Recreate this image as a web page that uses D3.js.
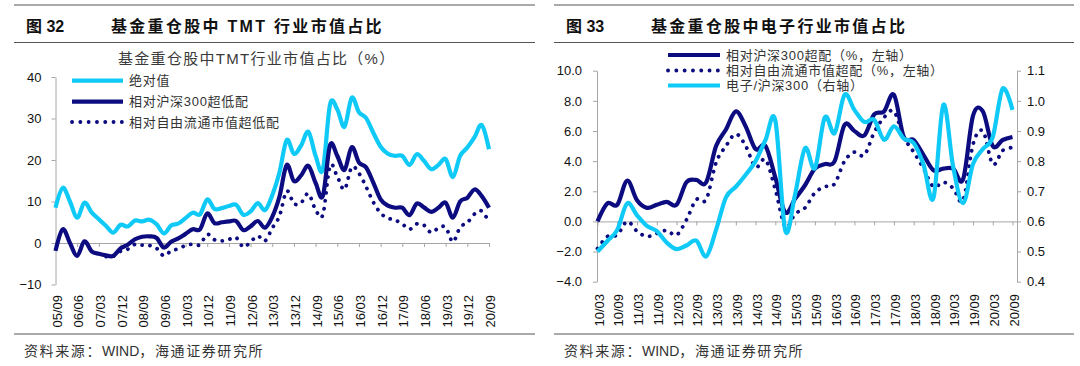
<!DOCTYPE html>
<html>
<head>
<meta charset="utf-8">
<script src="https://cdn.jsdelivr.net/npm/d3@7"></script>
<style>
  body { margin: 0; background: #fff; }
  svg text { font-family: "Liberation Sans", "Noto Sans CJK SC", sans-serif; }
</style>
</head>
<body>
<svg id="chart" width="1080" height="366"></svg>
<script>
// ---- 图32 data (quarterly) ----
const tmtQuarters = ["05/09","05/12","06/03","06/06","06/09","06/12","07/03","07/06","07/09","07/12",
  "08/03","08/06","08/09","08/12","09/03","09/06","09/09","09/12","10/03","10/06",
  "10/09","10/12","11/03","11/06","11/09","11/12","12/03","12/06","12/09","12/12",
  "13/03","13/06","13/09","13/12","14/03","14/06","14/09","14/12","15/03","15/06",
  "15/09","15/12","16/03","16/06","16/09","16/12","17/03","17/06","17/09","17/12",
  "18/03","18/06","18/09","18/12","19/03","19/06","19/09","19/12","20/03","20/06","20/09"];
const tmtTickLabels = ["05/09","06/06","07/03","07/12","08/09","09/06","10/03","10/12","11/09","12/06",
  "13/03","13/12","14/09","15/06","16/03","16/12","17/09","18/06","19/03","19/12","20/09"];
const tmtYTicks = [-10, 0, 10, 20, 30, 40];
const tmtAbs = [8.5, 13.3, 10.0, 6.1, 9.7, 7.4, 5.7, 4.1, 2.5, 4.4,
  4.0, 5.4, 5.2, 5.6, 4.5, 2.3, 4.2, 4.7, 6.0, 7.3,
  6.9, 10.5, 8.2, 8.4, 8.9, 9.2, 6.8, 7.6, 9.6, 7.9,
  11.5, 17.0, 24.8, 21.5, 23.5, 26.8, 21.0, 17.7, 33.4, 32.2,
  28.0, 35.0, 31.5, 30.1, 26.5, 23.2, 21.5, 21.0, 21.0, 18.8,
  21.4, 19.8, 17.8, 18.8, 20.2, 15.9, 21.0, 23.0, 25.5, 28.4, 22.6];
const tmtRelHS300 = [-1.9, 3.3, 0.0, -3.1, 0.4, -2.0, -2.6, -3.0, -3.1, -1.3,
  -0.4, 0.9, 1.5, 1.6, 1.2, -1.1, 0.3, 1.1, 2.2, 3.3,
  3.3, 7.1, 4.8, 5.0, 5.2, 5.3, 3.1, 4.0, 5.3, 3.7,
  6.3, 11.2, 18.8, 14.9, 16.3, 18.6, 14.5, 11.3, 23.6, 21.0,
  17.6, 23.1, 19.4, 18.2, 14.5, 10.5, 9.0, 8.5, 8.5, 6.7,
  9.5, 8.6, 7.5, 8.5, 9.7, 6.1, 10.0, 10.9, 12.9, 11.3, 8.5];
const tmtRelFree = [null, null, null, null, null, null, null, -3.3, -3.2, -2.0,
  -1.5, -0.3, -0.5, -0.6, -1.3, -3.1, -1.9, -1.4, -0.6, -0.3,
  -0.4, 2.1, 0.8, 0.5, 0.9, 1.3, -1.0, 0.3, 1.7, 0.5,
  3.6, 6.5, 12.5, 9.5, 9.7, 11.9, 8.0, 6.8, 18.6, 16.0,
  12.9, 18.3, 16.8, 13.5, 9.8, 7.2, 6.0, 5.5, 4.6, 3.3,
  4.6, 4.3, 2.5, 3.6, 3.8, 0.3, 3.8, 4.9, 7.0, 7.7, 5.0];

// ---- 图33 data (quarterly) ----
const elecQuarters = ["10/03","10/06","10/09","10/12","11/03","11/06","11/09","11/12","12/03","12/06",
  "12/09","12/12","13/03","13/06","13/09","13/12","14/03","14/06","14/09","14/12",
  "15/03","15/06","15/09","15/12","16/03","16/06","16/09","16/12","17/03","17/06",
  "17/09","17/12","18/03","18/06","18/09","18/12","19/03","19/06","19/09","19/12",
  "20/03","20/06","20/09"];
const elecTickLabels = ["10/03","10/09","11/03","11/09","12/03","12/09","13/03","13/09","14/03","14/09",
  "15/03","15/09","16/03","16/09","17/03","17/09","18/03","18/09","19/03","19/09","20/03","20/09"];
const elecLeftTicks = [-4, -2, 0, 2, 4, 6, 8, 10];
const elecRightTicks = [0.4, 0.5, 0.6, 0.7, 0.8, 0.9, 1.0, 1.1];
const elecRelHS300 = [0.0, 1.2, 1.1, 2.7, 1.4, 0.9, 1.1, 1.3, 1.1, 2.6,
  2.75, 2.6, 5.0, 6.1, 7.3, 6.3, 4.8, 5.0, 2.9, 0.6,
  1.5, 2.4, 3.5, 3.8, 4.0, 6.4, 6.0, 5.7, 7.1, 7.3,
  8.4, 5.6, 5.4, 4.4, 3.4, 3.5, 3.5, 2.8, 7.0, 7.3,
  5.0, 5.4, 5.6];
const elecRelFree = [-1.8, -1.0, -0.9, 0.0, -0.65, -1.0, -0.8, -0.6, -0.9, 0.1,
  1.45, 1.45, 3.9, 5.0, 5.8, 5.0, 3.6, 4.1, 2.1, -0.35,
  0.5, 0.9, 1.9, 2.3, 2.5, 4.0, 4.6, 4.4, 5.9, 6.9,
  7.3, 5.6, 4.6, 3.5, 2.3, 2.6, 2.2, 1.4, 5.1, 6.0,
  3.8, 4.7, 4.9];
const elecRatio = [0.50, 0.535, 0.572, 0.66, 0.62, 0.585, 0.568, 0.53, 0.508, 0.52,
  0.536, 0.484, 0.572, 0.68, 0.715, 0.755, 0.80, 0.87, 0.935, 0.57,
  0.69, 0.843, 0.777, 0.945, 0.893, 1.02, 0.97, 0.93, 0.937, 0.871,
  0.915, 0.875, 0.86, 0.788, 0.678, 0.987, 0.78, 0.661, 0.79, 0.84,
  0.88, 1.04, 0.97];

const cyan = "#0fc9f7", navy = "#0c0c80", axisGray = "#a6a6a6";
const svg = d3.select("#chart");
const curve = d3.curveCardinal.tension(0);

// frame rules and headings
function header(x0, x1, num, title) {
  svg.append("line").attr("x1", x0).attr("x2", x1).attr("y1", 5).attr("y2", 5)
     .attr("stroke", "#555").attr("stroke-width", 1.2);
  svg.append("line").attr("x1", x0).attr("x2", x1).attr("y1", 42.5).attr("y2", 42.5)
     .attr("stroke", "#555").attr("stroke-width", 1);
  svg.append("line").attr("x1", x0).attr("x2", x1).attr("y1", 334).attr("y2", 334)
     .attr("stroke", "#555").attr("stroke-width", 1);
  svg.append("text").attr("x", x0 + 12).attr("y", 32).text(num)
     .style("font-size", "16px").style("font-weight", "bold").attr("fill", "#111");
  svg.append("text").attr("x", x0 + 97).attr("y", 32).text(title)
     .style("font-size", "16px").style("font-weight", "bold").style("letter-spacing", "2.3px").attr("fill", "#111");
  const src = svg.append("text").attr("x", x0 + 10).attr("y", 356)
     .style("font-size", "14px").style("letter-spacing", "1.6px").attr("fill", "#333");
  src.append("tspan").text("资料来源：");
  src.append("tspan").style("letter-spacing", "0px").text("WIND");
  src.append("tspan").text("，海通证券研究所");
}
header(14, 535, "图 32", "基金重仓股中 TMT 行业市值占比");
header(554, 1074, "图 33", "基金重仓股中电子行业市值占比");

function xLabels(g, scale, labels, y) {
  g.selectAll(null).data(labels).enter().append("text")
   .attr("transform", d => `translate(${scale(d) + 1.5},${y}) rotate(-90)`)
   .attr("dy", "0.35em").attr("text-anchor", "end")
   .style("font-size", "13px").attr("fill", "#111").text(d => d);
}

function legend(g, items, x0, x1, ys, size) {
  items.forEach((it, k) => {
    const ln = g.append("line").attr("x1", x0).attr("x2", x1).attr("y1", ys[k]).attr("y2", ys[k])
      .attr("stroke", it.color).attr("stroke-width", it.dotted ? 3.8 : 4.2);
    if (it.dotted) ln.attr("stroke-dasharray", "0.1 8.2").attr("stroke-linecap", "round");
    g.append("text").attr("x", x1 + 6).attr("y", ys[k]).attr("dy", "0.36em").text(it.label)
      .style("font-size", size).style("letter-spacing", "0.7px").attr("fill", "#333");
  });
}

function series(g, x, y, values, color, dotted) {
  const line = d3.line().defined(d => d.v != null).x(d => x(d.q)).y(d => y(d.v)).curve(curve);
  const p = g.append("path").datum(values)
    .attr("d", line).attr("fill", "none").attr("stroke", color)
    .attr("stroke-width", dotted ? 3.8 : 4.2).attr("stroke-linejoin", "round");
  if (dotted) p.attr("stroke-dasharray", "0.1 7.8").attr("stroke-linecap", "round");
}

// ---------------- 图32 ----------------
{
  const g = svg.append("g");
  const x = d3.scalePoint().domain(tmtQuarters).range([55.5, 489]);
  const y = d3.scaleLinear().domain([-10, 40]).range([284.5, 77]);

  const ya = g.append("g").attr("transform", `translate(${x(tmtQuarters[0])},0)`)
    .call(d3.axisLeft(y).tickValues(tmtYTicks).tickSize(4).tickSizeOuter(0).tickPadding(10));
  ya.select(".domain").attr("stroke", axisGray);
  ya.selectAll(".tick line").attr("stroke", axisGray);
  ya.selectAll(".tick text").style("font-size", "13px").attr("fill", "#111")
    .style("font-family", '"Liberation Sans", sans-serif');

  const xa = g.append("g").attr("transform", `translate(0,${y(0)})`)
    .call(d3.axisBottom(x).tickValues(tmtTickLabels).tickSize(4).tickSizeOuter(0).tickFormat(""));
  xa.select(".domain").attr("stroke", axisGray);
  xa.selectAll(".tick line").attr("stroke", axisGray);
  xLabels(g, x, tmtTickLabels, 295);

  g.append("text").attr("x", 118).attr("y", 58.5).attr("dy", "0.36em")
    .text("基金重仓股中TMT行业市值占比（%）")
    .style("font-size", "15px").style("letter-spacing", "1.3px").attr("fill", "#3a3a3a");

  series(g, x, y, tmtQuarters.map((q, i) => ({q, v: tmtAbs[i]})), cyan, false);
  series(g, x, y, tmtQuarters.map((q, i) => ({q, v: tmtRelHS300[i]})), navy, false);
  series(g, x, y, tmtQuarters.map((q, i) => ({q, v: tmtRelFree[i]})), navy, true);

  legend(g, [
    {label: "绝对值", color: cyan},
    {label: "相对沪深300超低配", color: navy},
    {label: "相对自由流通市值超低配", color: navy, dotted: true}
  ], 72, 123, [80.7, 101.7, 122], "13px");
}

// ---------------- 图33 ----------------
{
  const g = svg.append("g");
  const x = d3.scalePoint().domain(elecQuarters).range([597.5, 1012.5]);
  const yl = d3.scaleLinear().domain([-4, 10]).range([281.7, 70.7]);
  const yr = d3.scaleLinear().domain([0.4, 1.1]).range([281.7, 70.7]);

  const la = g.append("g").attr("transform", "translate(597,0)")
    .call(d3.axisLeft(yl).tickValues(elecLeftTicks).tickSize(4).tickSizeOuter(0).tickPadding(11)
      .tickFormat(d3.format(".1f")));
  const ra = g.append("g").attr("transform", "translate(1017,0)")
    .call(d3.axisRight(yr).tickValues(elecRightTicks).tickSize(4).tickSizeOuter(0).tickPadding(6)
      .tickFormat(d3.format(".1f")));
  [la, ra].forEach(a => {
    a.select(".domain").attr("stroke", axisGray);
    a.selectAll(".tick line").attr("stroke", axisGray);
    a.selectAll(".tick text").style("font-size", "13px").attr("fill", "#111")
      .style("font-family", '"Liberation Sans", sans-serif');
  });

  const xa = g.append("g").attr("transform", `translate(0,${yl(0)})`)
    .call(d3.axisBottom(x).tickValues(elecTickLabels).tickSize(4).tickSizeOuter(0).tickFormat(""));
  xa.select(".domain").attr("stroke", axisGray).attr("d", `M597,0.5H1017`);
  xa.selectAll(".tick line").attr("stroke", axisGray);
  xLabels(g, x, elecTickLabels, 294);

  series(g, x, yl, elecQuarters.map((q, i) => ({q, v: elecRelFree[i]})), navy, true);
  series(g, x, yl, elecQuarters.map((q, i) => ({q, v: elecRelHS300[i]})), navy, false);
  series(g, x, yr, elecQuarters.map((q, i) => ({q, v: elecRatio[i]})), cyan, false);

  legend(g, [
    {label: "相对沪深300超配（%，左轴）", color: navy},
    {label: "相对自由流通市值超配（%，左轴）", color: navy, dotted: true},
    {label: "电子/沪深300（右轴）", color: cyan}
  ], 668, 720, [55, 70.5, 85.5], "13px");
}
</script>
</body>
</html>
